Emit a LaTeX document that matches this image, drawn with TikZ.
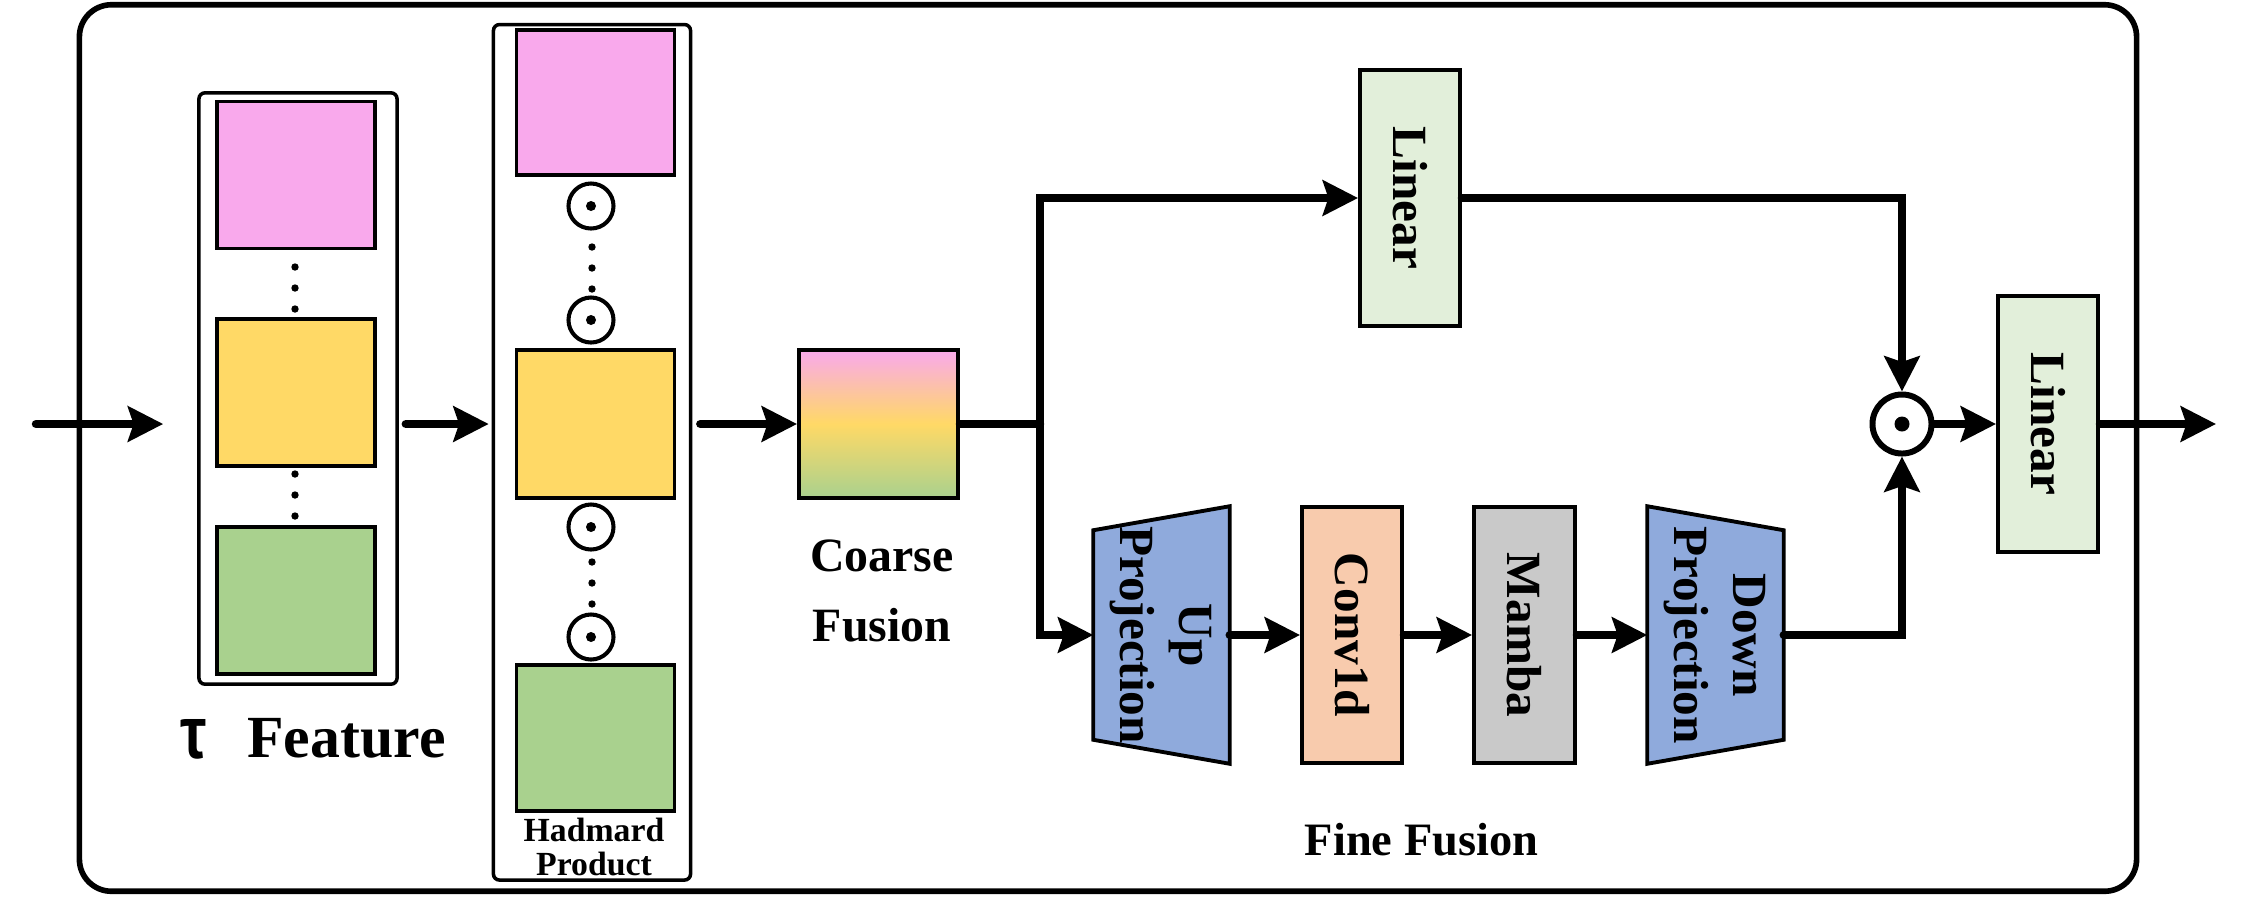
\documentclass[tikz,border=0pt]{standalone}
\usepackage{fontspec}
\setmainfont{Liberation Serif}
\newfontfamily\taufont{Liberation Sans}
\usetikzlibrary{arrows.meta,backgrounds}
\definecolor{pinkc}{HTML}{F9A9EC}
\definecolor{yelc}{HTML}{FFD966}
\definecolor{grnc}{HTML}{A9D18E}
\definecolor{linc}{HTML}{E2EFDA}
\definecolor{bluc}{HTML}{8FAADC}
\definecolor{convc}{HTML}{F8CBAD}
\definecolor{mambc}{HTML}{C9C9C9}
\begin{document}
\begin{tikzpicture}[x=0.01cm,y=-0.01cm,
  box/.style={draw, line width=1.1pt, inner sep=0pt},
  sq/.style={box, minimum width=1.58cm, minimum height=1.47cm},
  tall/.style={box, minimum width=1cm, minimum height=2.56cm, font=\bfseries\fontsize{14}{16.8}\selectfont},
  proj/.style={inner sep=0pt, minimum width=1.35cm, minimum height=2.56cm, font=\bfseries\fontsize{14}{16.8}\selectfont},
  trap/.style={draw, line width=1.1pt, fill=bluc},
  frame/.style={draw, line width=1pt, rounded corners=0.06cm, inner sep=0pt},
  conn/.style={line width=2.4pt, line cap=round},
  arr/.style={conn, -{Stealth[length=10pt,width=10pt,inset=1.6pt]}},
  dotcirc/.style={circle, draw, line width=1.15pt, minimum size=0.45cm, inner sep=0pt},
  lab/.style={font=\bfseries, inner sep=0pt}
]
\useasboundingbox (0,0) rectangle (2256,896);
% outer frame
\node[draw, line width=1.6pt, rounded corners=0.32cm, minimum width=20.56cm, minimum height=8.86cm, inner sep=0pt] (outer) at (1108,448) {};

% Feature column
\node[frame, minimum width=1.98cm, minimum height=5.91cm] (fbox) at (298,388.5) {};
\node[sq, fill=pinkc] (f1) at (296,175) {};
\node[sq, fill=yelc] (f2) at (296,392.5) {};
\node[sq, fill=grnc] (f3) at (296,600.5) {};
\foreach \y in {267,288,309,474,495,516} \fill (295,\y) circle (0.037cm);
\node[lab, font=\bfseries\fontsize{17}{20}\selectfont, anchor=base] (feat) at (346.5,757) {Feature};
\node[inner sep=0pt, font=\taufont\bfseries\fontsize{21}{21}\selectfont, anchor=base] (tau) at (194,758) {\scalebox{0.8}[1]{τ}};

% Hadmard column
\node[frame, minimum width=1.97cm, minimum height=8.55cm] (hbox) at (592,452.3) {};
\node[sq, fill=pinkc, minimum height=1.45cm] (h1) at (595.5,102.5) {};
\node[sq, fill=yelc, minimum height=1.48cm] (h2) at (595.5,424) {};
\node[sq, fill=grnc, minimum height=1.46cm] (h3) at (595.5,738) {};
\foreach \y/\n in {206/o1,320/o2,527/o3,637/o4} {
  \node[dotcirc] (\n) at (591,\y) {};
  \fill (\n) circle (0.05cm);
}
\foreach \y in {247,268,289,562,583,604} \fill (592,\y) circle (0.037cm);
\node[lab, font=\bfseries\fontsize{9.6}{9.8}\selectfont, align=center, anchor=north] (hlab) at (594,817) {Hadmard\\Product};

% Coarse fusion
\node[box, minimum width=1.59cm, minimum height=1.48cm, top color=pinkc, bottom color=grnc, middle color=yelc] (coarse) at (878.5,424) {};
\node[lab, font=\bfseries\fontsize{13.6}{19.9}\selectfont, align=center, anchor=north] (clab) at (882,539) {Coarse\\Fusion};

% Fine fusion branch
\node[tall, fill=linc] (lin1) at (1410,198) {\rotatebox{-90}{Linear}};
\node[proj] (up) at (1161.5,635) {\rotatebox{-90}{\begin{tabular}{@{}c@{}}Up\\Projection\end{tabular}}};
\node[tall, fill=convc] (conv) at (1352,635) {\rotatebox{-90}{Conv1d}};
\node[tall, fill=mambc, minimum width=1.01cm] (mamba) at (1524.5,635) {\rotatebox{-90}{Mamba}};
\node[proj] (down) at (1715.5,635) {\rotatebox{-90}{\begin{tabular}{@{}c@{}}Down\\Projection\end{tabular}}};
\begin{pgfonlayer}{background}
\draw[trap] ([yshift=-0.24cm]up.north west) -- (up.north east) -- (up.south east) -- ([yshift=0.24cm]up.south west) -- cycle;
\draw[trap] (down.north west) -- ([yshift=-0.24cm]down.north east) -- ([yshift=0.24cm]down.south east) -- (down.south west) -- cycle;
\end{pgfonlayer}
\node[lab, font=\bfseries\fontsize{13.2}{16}\selectfont, anchor=base] (flab) at (1421.5,855) {Fine Fusion};

\node[circle, draw, line width=1.7pt, minimum size=0.59cm, inner sep=0pt] (prod) at (1902,424) {};
\fill (prod) circle (0.075cm);
\node[tall, fill=linc] (lin2) at (2048,424) {\rotatebox{-90}{Linear}};

% connectors
\coordinate (row) at (0,424);
\coordinate (in) at (36,424);
\coordinate (split) at (1040,424);
\coordinate (out) at (2216,424);
\draw[arr] (in) -- ([xshift=-0.34cm]fbox.west |- row);
\draw[arr] ([xshift=0.07cm]fbox.east |- row) -- ([xshift=-0.03cm]hbox.west |- row);
\draw[arr] ([xshift=0.08cm]hbox.east |- row) -- (coarse.west);
\draw[conn] (coarse.east) -- (split);
\draw[arr] (split) |- (lin1.west);
\draw[arr] (split) |- (up.west);
\draw[arr] (up.east) -- (conv.west);
\draw[arr] (conv.east) -- (mamba.west);
\draw[arr] (mamba.east) -- (down.west);
\draw[arr] (down.east) -| (prod.south);
\draw[arr] (lin1.east) -| (prod.north);
\draw[arr] (prod.east) -- (lin2.west);
\draw[arr] (lin2.east) -- (out);
\end{tikzpicture}
\end{document}
